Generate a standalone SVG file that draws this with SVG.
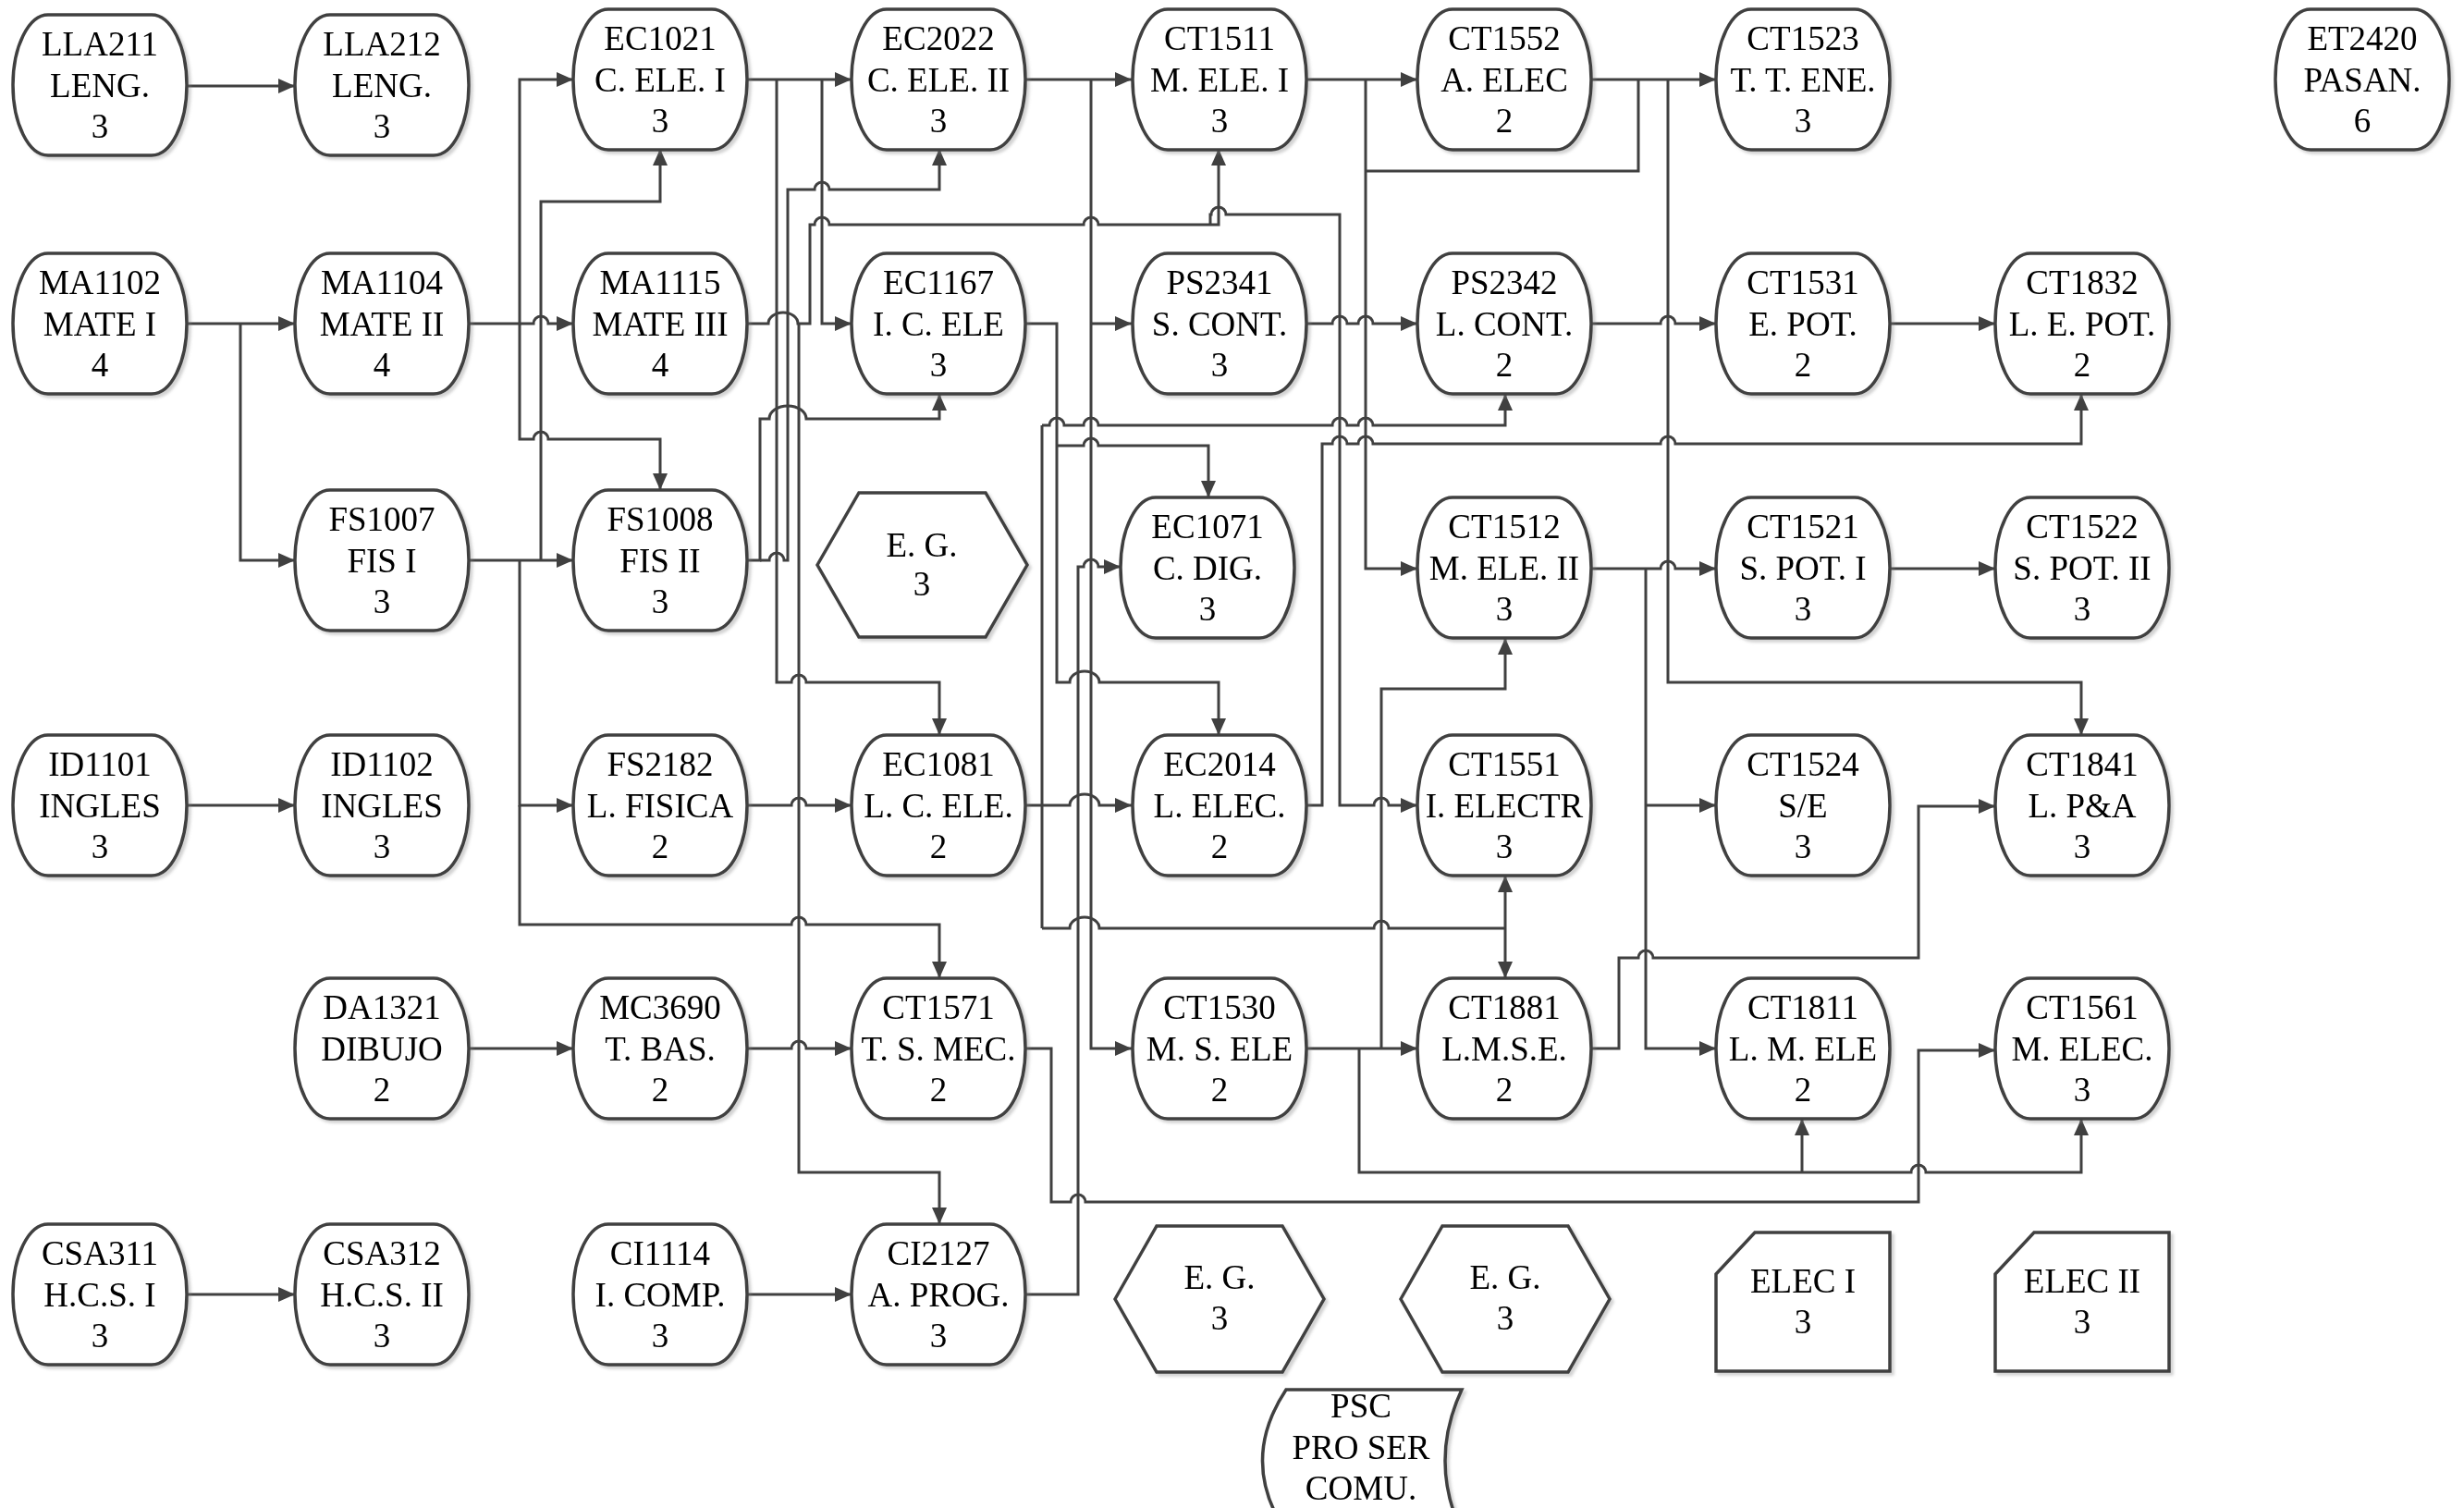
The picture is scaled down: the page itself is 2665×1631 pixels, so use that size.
<svg xmlns="http://www.w3.org/2000/svg" width="2665" height="1631" viewBox="0 0 2665 1631">
<defs>
<marker id="ah" viewBox="0 0 18 16" refX="18" refY="8" markerWidth="18" markerHeight="16" markerUnits="userSpaceOnUse" orient="auto"><path d="M0,0 L18,8 L0,16 z" fill="#404040"/></marker>
<filter id="sh" x="-10%" y="-10%" width="120%" height="120%"><feDropShadow dx="3" dy="3" stdDeviation="1.5" flood-color="#808080" flood-opacity="0.35"/></filter>
</defs>
<style>
.n{fill:#fff;stroke:#404040;stroke-width:3.5}
.t{font-family:"Liberation Serif","Times New Roman",serif;font-size:37px;fill:#000;text-anchor:middle}
.c{fill:none;stroke:#404040;stroke-width:3}
.a{marker-end:url(#ah)}
</style>
<rect width="2665" height="1631" fill="#fff"/>
<g id="connectors">
<path class="c a" d="M202,93 H319"/>
<path class="c a" d="M202,350 H319"/>
<path class="c a" d="M260,350 V606 H319"/>
<path class="c a" d="M507,350 H562 V86 H620"/>
<path class="c a" d="M562,350 H577 A8,8 0 0 1 593,350 H620"/>
<path class="c a" d="M562,350 V475 H577 A8,8 0 0 1 593,475 H714 V530"/>
<path class="c a" d="M507,606 H620"/>
<path class="c a" d="M585,606 V218 H714 V161"/>
<path class="c a" d="M562,606 V871 H620"/>
<path class="c a" d="M562,871 V1000 H856 A8,8 0 0 1 872,1000 H1016 V1058"/>
<path class="c a" d="M202,871 H319"/>
<path class="c a" d="M507,1134 H620"/>
<path class="c a" d="M202,1400 H319"/>
<path class="c a" d="M808,1400 H921"/>
<path class="c a" d="M808,1134 H856 A8,8 0 0 1 872,1134 H921"/>
<path class="c a" d="M808,871 H856 A8,8 0 0 1 872,871 H921"/>
<path class="c a" d="M808,86 H921"/>
<path class="c a" d="M840,86 V738 H856 A8,8 0 0 1 872,738 H1016 V795"/>
<path class="c a" d="M889,86 V350 H921"/>
<path class="c a" d="M808,350 H831 A16,12 0 0 1 863,350 H876 V243 H881 A8,8 0 0 1 897,243 H1172 A8,8 0 0 1 1188,243 H1318 V161"/>
<path class="c a" d="M864,350 V1268 H1016 V1324"/>
<path class="c a" d="M808,606 H822 V453 H832 A20,14 0 0 1 872,453 H1016 V426"/>
<path class="c a" d="M822,606 H832 A8,8 0 0 1 848,606 H852 V205 H881 A8,8 0 0 1 897,205 H1016 V161"/>
<path class="c a" d="M1109,86 H1224"/>
<path class="c a" d="M1180,86 V1134 H1224"/>
<path class="c a" d="M1180,350 H1224"/>
<path class="c a" d="M1109,350 H1143 V738 H1157 A16,12 0 0 1 1189,738 H1318 V795"/>
<path class="c a" d="M1143,482 H1172 A8,8 0 0 1 1188,482 H1307 V538"/>
<path class="c a" d="M1109,871 H1157 A16,12 0 0 1 1189,871 H1224"/>
<path class="c" d="M1127,460 V1004"/>
<path class="c a" d="M1127,460 H1135 A8,8 0 0 1 1151,460 H1172 A8,8 0 0 1 1188,460 H1441 A8,8 0 0 1 1457,460 H1469 A8,8 0 0 1 1485,460 H1628 V426"/>
<path class="c" d="M1127,1004 H1157 A16,12 0 0 1 1189,1004 H1486 A8,8 0 0 1 1502,1004 H1628"/>
<path class="c a" d="M1628,1004 V947"/>
<path class="c a" d="M1628,1004 V1058"/>
<path class="c a" d="M1109,1400 H1166 V613 H1172 A8,8 0 0 1 1188,613 H1212"/>
<path class="c a" d="M1109,1134 H1137 V1300 H1158 A8,8 0 0 1 1174,1300 H2075 V1136 H2158"/>
<path class="c a" d="M1413,86 H1533"/>
<path class="c a" d="M1477,86 V615 H1533"/>
<path class="c" d="M1477,185 H1772 V86"/>
<path class="c a" d="M1721,86 H1856"/>
<path class="c a" d="M1804,86 V738 H2251 V795"/>
<path class="c a" d="M1413,350 H1441 A8,8 0 0 1 1457,350 H1469 A8,8 0 0 1 1485,350 H1533"/>
<path class="c a" d="M1721,350 H1796 A8,8 0 0 1 1812,350 H1856"/>
<path class="c a" d="M2044,350 H2158"/>
<path class="c a" d="M1413,871 H1430 V480 H1441 A8,8 0 0 1 1457,480 H1469 A8,8 0 0 1 1485,480 H1796 A8,8 0 0 1 1812,480 H2251 V426"/>
<path class="c a" d="M1309,243 V232 H1310 A8,8 0 0 1 1326,232 H1449 V871 H1486 A8,8 0 0 1 1502,871 H1533"/>
<path class="c a" d="M1413,1134 H1533"/>
<path class="c a" d="M1470,1134 V1268 H2067 A8,8 0 0 1 2083,1268 H2251 V1210"/>
<path class="c a" d="M1949,1268 V1210"/>
<path class="c a" d="M1494,1134 V745 H1628 V690"/>
<path class="c a" d="M1721,615 H1796 A8,8 0 0 1 1812,615 H1856"/>
<path class="c a" d="M1780,615 V1134 H1856"/>
<path class="c a" d="M1780,871 H1856"/>
<path class="c a" d="M2044,615 H2158"/>
<path class="c a" d="M1721,1134 H1751 V1036 H1772 A8,8 0 0 1 1788,1036 H2075 V872 H2158"/>
</g>
<g id="LLA211" filter="url(#sh)"><rect class="n" x="14" y="16" width="188" height="152" rx="38" ry="76"/><text class="t" x="108" y="60">LLA211</text><text class="t" x="108" y="105">LENG.</text><text class="t" x="108" y="149">3</text></g>
<g id="LLA212" filter="url(#sh)"><rect class="n" x="319" y="16" width="188" height="152" rx="38" ry="76"/><text class="t" x="413" y="60">LLA212</text><text class="t" x="413" y="105">LENG.</text><text class="t" x="413" y="149">3</text></g>
<g id="EC1021" filter="url(#sh)"><rect class="n" x="620" y="10" width="188" height="152" rx="38" ry="76"/><text class="t" x="714" y="54">EC1021</text><text class="t" x="714" y="99">C. ELE. I</text><text class="t" x="714" y="143">3</text></g>
<g id="EC2022" filter="url(#sh)"><rect class="n" x="921" y="10" width="188" height="152" rx="38" ry="76"/><text class="t" x="1015" y="54">EC2022</text><text class="t" x="1015" y="99">C. ELE. II</text><text class="t" x="1015" y="143">3</text></g>
<g id="CT1511" filter="url(#sh)"><rect class="n" x="1225" y="10" width="188" height="152" rx="38" ry="76"/><text class="t" x="1319" y="54">CT1511</text><text class="t" x="1319" y="99">M. ELE. I</text><text class="t" x="1319" y="143">3</text></g>
<g id="CT1552" filter="url(#sh)"><rect class="n" x="1533" y="10" width="188" height="152" rx="38" ry="76"/><text class="t" x="1627" y="54">CT1552</text><text class="t" x="1627" y="99">A. ELEC</text><text class="t" x="1627" y="143">2</text></g>
<g id="CT1523" filter="url(#sh)"><rect class="n" x="1856" y="10" width="188" height="152" rx="38" ry="76"/><text class="t" x="1950" y="54">CT1523</text><text class="t" x="1950" y="99">T. T. ENE.</text><text class="t" x="1950" y="143">3</text></g>
<g id="ET2420" filter="url(#sh)"><rect class="n" x="2461" y="10" width="188" height="152" rx="38" ry="76"/><text class="t" x="2555" y="54">ET2420</text><text class="t" x="2555" y="99">PASAN.</text><text class="t" x="2555" y="143">6</text></g>
<g id="MA1102" filter="url(#sh)"><rect class="n" x="14" y="274" width="188" height="152" rx="38" ry="76"/><text class="t" x="108" y="318">MA1102</text><text class="t" x="108" y="363">MATE I</text><text class="t" x="108" y="407">4</text></g>
<g id="MA1104" filter="url(#sh)"><rect class="n" x="319" y="274" width="188" height="152" rx="38" ry="76"/><text class="t" x="413" y="318">MA1104</text><text class="t" x="413" y="363">MATE II</text><text class="t" x="413" y="407">4</text></g>
<g id="MA1115" filter="url(#sh)"><rect class="n" x="620" y="274" width="188" height="152" rx="38" ry="76"/><text class="t" x="714" y="318">MA1115</text><text class="t" x="714" y="363">MATE III</text><text class="t" x="714" y="407">4</text></g>
<g id="EC1167" filter="url(#sh)"><rect class="n" x="921" y="274" width="188" height="152" rx="38" ry="76"/><text class="t" x="1015" y="318">EC1167</text><text class="t" x="1015" y="363">I. C. ELE</text><text class="t" x="1015" y="407">3</text></g>
<g id="PS2341" filter="url(#sh)"><rect class="n" x="1225" y="274" width="188" height="152" rx="38" ry="76"/><text class="t" x="1319" y="318">PS2341</text><text class="t" x="1319" y="363">S. CONT.</text><text class="t" x="1319" y="407">3</text></g>
<g id="PS2342" filter="url(#sh)"><rect class="n" x="1533" y="274" width="188" height="152" rx="38" ry="76"/><text class="t" x="1627" y="318">PS2342</text><text class="t" x="1627" y="363">L. CONT.</text><text class="t" x="1627" y="407">2</text></g>
<g id="CT1531" filter="url(#sh)"><rect class="n" x="1856" y="274" width="188" height="152" rx="38" ry="76"/><text class="t" x="1950" y="318">CT1531</text><text class="t" x="1950" y="363">E. POT.</text><text class="t" x="1950" y="407">2</text></g>
<g id="CT1832" filter="url(#sh)"><rect class="n" x="2158" y="274" width="188" height="152" rx="38" ry="76"/><text class="t" x="2252" y="318">CT1832</text><text class="t" x="2252" y="363">L. E. POT.</text><text class="t" x="2252" y="407">2</text></g>
<g id="FS1007" filter="url(#sh)"><rect class="n" x="319" y="530" width="188" height="152" rx="38" ry="76"/><text class="t" x="413" y="574">FS1007</text><text class="t" x="413" y="619">FIS I</text><text class="t" x="413" y="663">3</text></g>
<g id="FS1008" filter="url(#sh)"><rect class="n" x="620" y="530" width="188" height="152" rx="38" ry="76"/><text class="t" x="714" y="574">FS1008</text><text class="t" x="714" y="619">FIS II</text><text class="t" x="714" y="663">3</text></g>
<g id="EG1" filter="url(#sh)"><polygon class="n" points="884,611 929,533 1066,533 1111,611 1066,689 929,689"/><text class="t" x="997" y="602">E. G.</text><text class="t" x="997" y="644">3</text></g>
<g id="EC1071" filter="url(#sh)"><rect class="n" x="1212" y="538" width="188" height="152" rx="38" ry="76"/><text class="t" x="1306" y="582">EC1071</text><text class="t" x="1306" y="627">C. DIG.</text><text class="t" x="1306" y="671">3</text></g>
<g id="CT1512" filter="url(#sh)"><rect class="n" x="1533" y="538" width="188" height="152" rx="38" ry="76"/><text class="t" x="1627" y="582">CT1512</text><text class="t" x="1627" y="627">M. ELE. II</text><text class="t" x="1627" y="671">3</text></g>
<g id="CT1521" filter="url(#sh)"><rect class="n" x="1856" y="538" width="188" height="152" rx="38" ry="76"/><text class="t" x="1950" y="582">CT1521</text><text class="t" x="1950" y="627">S. POT. I</text><text class="t" x="1950" y="671">3</text></g>
<g id="CT1522" filter="url(#sh)"><rect class="n" x="2158" y="538" width="188" height="152" rx="38" ry="76"/><text class="t" x="2252" y="582">CT1522</text><text class="t" x="2252" y="627">S. POT. II</text><text class="t" x="2252" y="671">3</text></g>
<g id="ID1101" filter="url(#sh)"><rect class="n" x="14" y="795" width="188" height="152" rx="38" ry="76"/><text class="t" x="108" y="839">ID1101</text><text class="t" x="108" y="884">INGLES</text><text class="t" x="108" y="928">3</text></g>
<g id="ID1102" filter="url(#sh)"><rect class="n" x="319" y="795" width="188" height="152" rx="38" ry="76"/><text class="t" x="413" y="839">ID1102</text><text class="t" x="413" y="884">INGLES</text><text class="t" x="413" y="928">3</text></g>
<g id="FS2182" filter="url(#sh)"><rect class="n" x="620" y="795" width="188" height="152" rx="38" ry="76"/><text class="t" x="714" y="839">FS2182</text><text class="t" x="714" y="884">L. FISICA</text><text class="t" x="714" y="928">2</text></g>
<g id="EC1081" filter="url(#sh)"><rect class="n" x="921" y="795" width="188" height="152" rx="38" ry="76"/><text class="t" x="1015" y="839">EC1081</text><text class="t" x="1015" y="884">L. C. ELE.</text><text class="t" x="1015" y="928">2</text></g>
<g id="EC2014" filter="url(#sh)"><rect class="n" x="1225" y="795" width="188" height="152" rx="38" ry="76"/><text class="t" x="1319" y="839">EC2014</text><text class="t" x="1319" y="884">L. ELEC.</text><text class="t" x="1319" y="928">2</text></g>
<g id="CT1551" filter="url(#sh)"><rect class="n" x="1533" y="795" width="188" height="152" rx="38" ry="76"/><text class="t" x="1627" y="839">CT1551</text><text class="t" x="1627" y="884">I. ELECTR</text><text class="t" x="1627" y="928">3</text></g>
<g id="CT1524" filter="url(#sh)"><rect class="n" x="1856" y="795" width="188" height="152" rx="38" ry="76"/><text class="t" x="1950" y="839">CT1524</text><text class="t" x="1950" y="884">S/E</text><text class="t" x="1950" y="928">3</text></g>
<g id="CT1841" filter="url(#sh)"><rect class="n" x="2158" y="795" width="188" height="152" rx="38" ry="76"/><text class="t" x="2252" y="839">CT1841</text><text class="t" x="2252" y="884">L. P&amp;A</text><text class="t" x="2252" y="928">3</text></g>
<g id="DA1321" filter="url(#sh)"><rect class="n" x="319" y="1058" width="188" height="152" rx="38" ry="76"/><text class="t" x="413" y="1102">DA1321</text><text class="t" x="413" y="1147">DIBUJO</text><text class="t" x="413" y="1191">2</text></g>
<g id="MC3690" filter="url(#sh)"><rect class="n" x="620" y="1058" width="188" height="152" rx="38" ry="76"/><text class="t" x="714" y="1102">MC3690</text><text class="t" x="714" y="1147">T. BAS.</text><text class="t" x="714" y="1191">2</text></g>
<g id="CT1571" filter="url(#sh)"><rect class="n" x="921" y="1058" width="188" height="152" rx="38" ry="76"/><text class="t" x="1015" y="1102">CT1571</text><text class="t" x="1015" y="1147">T. S. MEC.</text><text class="t" x="1015" y="1191">2</text></g>
<g id="CT1530" filter="url(#sh)"><rect class="n" x="1225" y="1058" width="188" height="152" rx="38" ry="76"/><text class="t" x="1319" y="1102">CT1530</text><text class="t" x="1319" y="1147">M. S. ELE</text><text class="t" x="1319" y="1191">2</text></g>
<g id="CT1881" filter="url(#sh)"><rect class="n" x="1533" y="1058" width="188" height="152" rx="38" ry="76"/><text class="t" x="1627" y="1102">CT1881</text><text class="t" x="1627" y="1147">L.M.S.E.</text><text class="t" x="1627" y="1191">2</text></g>
<g id="CT1811" filter="url(#sh)"><rect class="n" x="1856" y="1058" width="188" height="152" rx="38" ry="76"/><text class="t" x="1950" y="1102">CT1811</text><text class="t" x="1950" y="1147">L. M. ELE</text><text class="t" x="1950" y="1191">2</text></g>
<g id="CT1561" filter="url(#sh)"><rect class="n" x="2158" y="1058" width="188" height="152" rx="38" ry="76"/><text class="t" x="2252" y="1102">CT1561</text><text class="t" x="2252" y="1147">M. ELEC.</text><text class="t" x="2252" y="1191">3</text></g>
<g id="CSA311" filter="url(#sh)"><rect class="n" x="14" y="1324" width="188" height="152" rx="38" ry="76"/><text class="t" x="108" y="1368">CSA311</text><text class="t" x="108" y="1413">H.C.S. I</text><text class="t" x="108" y="1457">3</text></g>
<g id="CSA312" filter="url(#sh)"><rect class="n" x="319" y="1324" width="188" height="152" rx="38" ry="76"/><text class="t" x="413" y="1368">CSA312</text><text class="t" x="413" y="1413">H.C.S. II</text><text class="t" x="413" y="1457">3</text></g>
<g id="CI1114" filter="url(#sh)"><rect class="n" x="620" y="1324" width="188" height="152" rx="38" ry="76"/><text class="t" x="714" y="1368">CI1114</text><text class="t" x="714" y="1413">I. COMP.</text><text class="t" x="714" y="1457">3</text></g>
<g id="CI2127" filter="url(#sh)"><rect class="n" x="921" y="1324" width="188" height="152" rx="38" ry="76"/><text class="t" x="1015" y="1368">CI2127</text><text class="t" x="1015" y="1413">A. PROG.</text><text class="t" x="1015" y="1457">3</text></g>
<g id="EG2" filter="url(#sh)"><polygon class="n" points="1206,1405 1251,1326 1387,1326 1432,1405 1387,1484 1251,1484"/><text class="t" x="1319" y="1394">E. G.</text><text class="t" x="1319" y="1438">3</text></g>
<g id="EG3" filter="url(#sh)"><polygon class="n" points="1515,1405 1560,1326 1696,1326 1741,1405 1696,1484 1560,1484"/><text class="t" x="1628" y="1394">E. G.</text><text class="t" x="1628" y="1438">3</text></g>
<g id="ELECI" filter="url(#sh)"><path class="n" d="M1856,1378 L1898,1333 H2044 V1483 H1856 Z"/><text class="t" x="1950" y="1398">ELEC I</text><text class="t" x="1950" y="1442">3</text></g>
<g id="ELECII" filter="url(#sh)"><path class="n" d="M2158,1378 L2200,1333 H2346 V1483 H2158 Z"/><text class="t" x="2252" y="1398">ELEC II</text><text class="t" x="2252" y="1442">3</text></g>
<g id="PSC" filter="url(#sh)"><path class="n" d="M1391,1503 L1581,1503 Q1545,1580 1581,1657 L1391,1657 Q1340,1580 1391,1503 Z"/><text class="t" x="1472" y="1533">PSC</text><text class="t" x="1472" y="1578">PRO SER</text><text class="t" x="1472" y="1622">COMU.</text></g>
</svg>
